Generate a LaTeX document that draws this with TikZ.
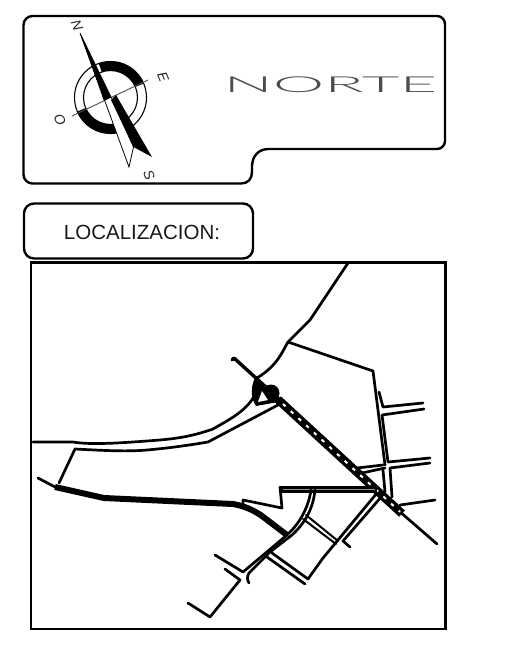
\documentclass[tikz,border=0pt]{standalone}
\usepackage{fontspec}
\setmainfont{Liberation Sans}
\newfontfamily\thinf{Lato Light}
\tikzset{
 panel/.style={draw=black,line width=2.4pt,line join=round},
 road/.style={draw=black,line width=2.7pt,line cap=round,line join=round},
 thinroad/.style={draw=black,line width=2pt,line cap=round,line join=round},
 rim/.style={draw=black,line width=1.1pt},
 compasslabel/.style={font=\fontsize{14}{14}\selectfont\itshape,inner sep=0pt,rotate=-68,text=black!85},
}
\begin{document}
\begin{tikzpicture}[x=1pt,y=-1pt]
\useasboundingbox (0,0) rectangle (509,654);
% north panel
\draw[panel,rounded corners=8pt] (100,16) -- (445,16) -- (445,149) -- (300,149);
\draw[panel] (300,149) -- (268,149) .. controls (258,149.5) and (252.5,156) .. (252,166) -- (252,172)
  .. controls (252,179) and (248,183.5) .. (241,183.5) -- (100,183.5);
\draw[panel,rounded corners=9pt] (100,183.5) -- (23.5,183.5) -- (23.5,16) -- (100,16);
% compass
\coordinate (cc) at (110.5,97.5);
\draw[rim] (cc) circle[radius=36];
\draw[rim] (cc) circle[radius=27];
\begin{scope}
 \clip (110.5,97.5) -- (91,40.8) -- (134.9,42.7) -- (165.7,74.1) -- cycle;
 \fill[black,even odd rule] (cc) circle[radius=36] (cc) circle[radius=27];
\end{scope}
\begin{scope}
 \clip (110.5,97.5) -- (130,154.2) -- (86.1,152.3) -- (55.3,120.9) -- cycle;
 \fill[black,even odd rule] (cc) circle[radius=36] (cc) circle[radius=27];
\end{scope}
\draw[black!70,line width=0.9pt] (72,116) -- (148,80);
\fill[white] (117,121) -- (130,118) -- (143,150) -- (132,150) -- cycle;
\draw[white,line width=1.5pt] (113,103) -- (133,147);
\draw[fill=white,line width=0.8pt] (80,33) -- (129,167) -- (133.5,147) -- (112,99) -- cycle;
\fill[black] (80,33) -- (104,101) -- (111,97.5) -- cycle;
\fill[black] (111,100) -- (116,95) -- (152,157) -- (133.5,147) -- cycle;
\node[compasslabel] (lblN) at (77,25) {N};
\node[compasslabel] (lblE) at (163,77) {E};
\node[compasslabel] (lblS) at (149,175) {S};
\node[compasslabel] (lblO) at (60,120) {O};
\node[inner sep=0pt,xscale=2.96,text=black!70,font=\fontsize{22}{22}\selectfont\thinf] (norte) at (330.5,85) {NORTE};
% localization
\draw[panel,rounded corners=10pt] (24,203.5) rectangle (253,258.5);
\node[inner sep=0pt,font=\fontsize{20.5}{20.5}\selectfont,text=black!90] (loc) at (142,232.5) {LOCALIZACION:};
% map frame
\draw[black,line width=2.7pt] (31,262.5) rectangle (445.5,629);
% coast
\draw[road] (348,263) -- (310,320) -- (288,342) .. controls (282,352) and (278,365) .. (257,378);
\draw[road] (288,342) -- (373,371) -- (385,465);
\draw[road] (33,442) -- (73,442) .. controls (90,445) and (120,443) .. (147,441) .. controls (175,439) and (190,437) .. (213,429) .. controls (225,422) and (245,412) .. (253,398);
\draw[road] (59,483) -- (75,449) .. controls (95,450) and (125,452) .. (147,450) .. controls (170,448) and (190,445) .. (208,442) -- (278,405);
% thick lower road
\draw[road] (38,478) -- (55,487);
\draw[black,line width=6pt,line join=round] (55,487) -- (104,498) -- (233,504) .. controls (245,506) and (255,511) .. (262,516) -- (287,535);
% main diagonal
\draw[black,line width=3.4pt,line cap=round,line join=round] (232,360) -- (234,358) -- (280,400);
\fill[black] (271,393) circle[radius=8.5];
\fill[black] (255,378) .. controls (251,386) and (250,397) .. (256,406) -- (278,402) -- (272,390) -- cycle;
\fill[white] (262,391) -- (268,400) -- (258,402) -- cycle;
\draw[black,line width=8.5pt] (278,399.5) -- (402,513.6);
\draw[white,line width=2pt,dash pattern=on 3.5pt off 7pt] (283,404) -- (400,511.8);
\draw[road] (402,513.6) -- (437,544);
% vertical road
\draw[road] (379,392) -- (383,407) -- (423,403);
\draw[road] (424,409) -- (382,415) -- (388,462) -- (430,458);
\draw[road] (430,463) -- (390,468) -- (392,497);
\draw[road] (383,465) -- (357,468);
\draw[road] (385,468) -- (362,473);
\draw[road] (383,470) -- (385,492);
\draw[road] (400,505) -- (435,500);
% double street
\draw[road] (243,505) -- (243,500) -- (282,508) -- (280,487);
\draw[black,line width=7pt] (279.5,489.5) -- (377,489.5);
\draw[black!45,line width=0.7pt] (283,489.5) -- (375,489.5);
% curved road
\draw[road] (215,555) -- (243,572) -- (287,535) .. controls (298,525) and (308,510) .. (311,490);
\draw[road] (315,490) .. controls (313,510) and (304,524) .. (292,535) -- (270,552) -- (249,573) .. controls (247,576) and (247,580) .. (249,583);
% cross streets
\draw[road] (272,553) -- (308,579) -- (323,558) -- (338,540) -- (377,493);
\draw[road] (267,557) -- (305,584);
\draw[road] (382,496) -- (343,541) -- (350,547);
\draw[thinroad] (306,515) -- (338,541);
\draw[thinroad] (303,519) -- (336,544);
% lower street
\draw[road] (225,569) -- (240,580) -- (210,617) -- (188,603);
\end{tikzpicture}
\end{document}
